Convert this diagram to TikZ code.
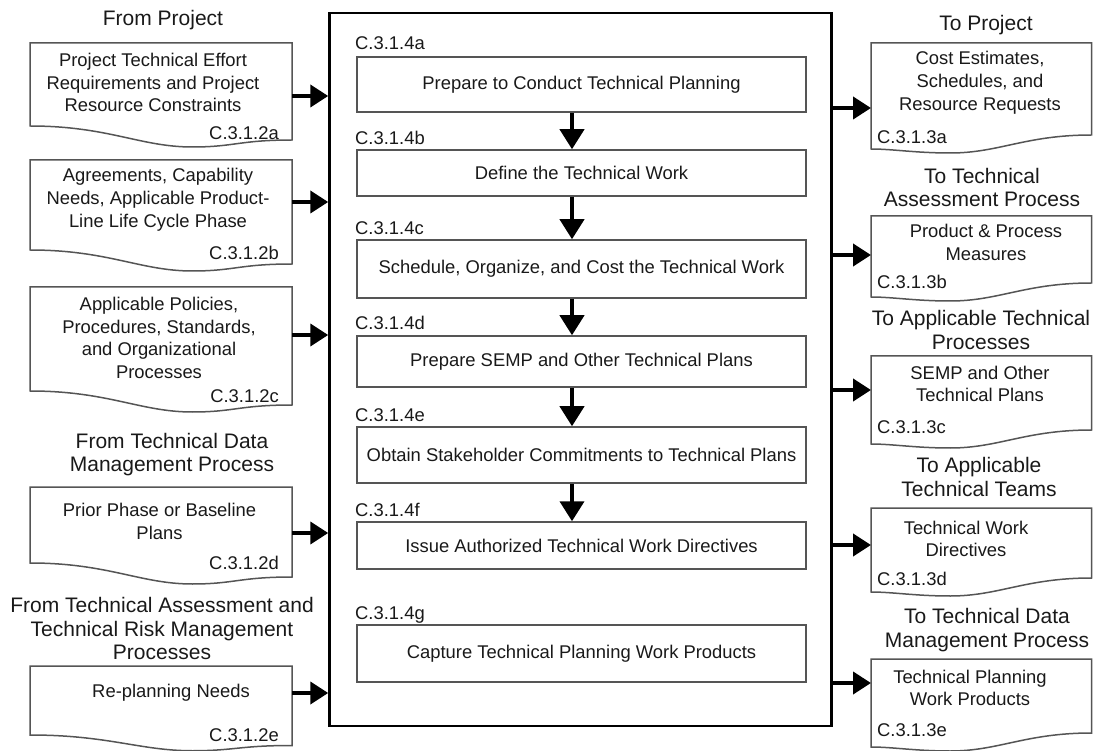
\documentclass[tikz,border=0pt]{standalone}
\usepackage{fontspec}
\setmainfont{Liberation Sans}
\usetikzlibrary{arrows.meta}
\definecolor{edge}{RGB}{85,85,85}
\definecolor{ink}{RGB}{25,25,25}
\tikzset{
  docline/.style={draw=edge, line width=1.5pt, fill=white},
  pbox/.style={draw=edge, line width=1.5pt, minimum width=449pt, inner sep=0pt, text=ink,
    font=\fontsize{18.4}{22}\selectfont},
  codelabel/.style={inner sep=0pt, text=ink, font=\fontsize{18.4}{22}\selectfont, text height=13.2pt, text depth=0pt},
  dtext/.style={inner sep=0pt, align=center, text=ink, font=\fontsize{18.4}{22.8}\selectfont},
  ttext/.style={inner sep=0pt, align=center, text=ink, font=\fontsize{21}{23.5}\selectfont},
  flow/.style={line width=4pt, -{Triangle[length=18pt,width=22pt]}},
  dflow/.style={line width=4pt, -{Triangle[length=20pt,width=24pt]}},
}
% left document shape: L R top ys amp
\newcommand\leftdocshape[5]{%
  \pgfmathsetmacro\docw{#2-#1}%
  \draw[docline] (#1,#3) -- (#2,#3) -- (#2,{#4+14*#5})
    .. controls ({#2-0.2*\docw},{#4+14*#5}) and ({#1+0.78*\docw},{#4+21*#5}) .. ({#1+0.62*\docw},{#4+21*#5})
    .. controls ({#1+0.42*\docw},{#4+21*#5}) and ({#1+0.3*\docw},{#4}) .. (#1,#4) -- cycle;
}
% right document shape: L R top ys amp
\newcommand\rightdocshape[5]{%
  \pgfmathsetmacro\docw{#2-#1}%
  \draw[docline] (#1,#3) -- (#2,#3) -- (#2,#4)
    .. controls ({#2-0.3*\docw},{#4}) and ({#1+0.58*\docw},{#4+18*#5}) .. ({#1+0.36*\docw},{#4+18*#5})
    .. controls ({#1+0.2*\docw},{#4+18*#5}) and ({#1+0.1*\docw},{#4+14*#5}) .. (#1,{#4+14*#5}) -- cycle;
}
\begin{document}
\begin{tikzpicture}[x=1pt,y=-1pt]
\useasboundingbox (0,0) rectangle (1093,751);

% ---------- central process ----------
\node[draw=black, line width=2.5pt, minimum width=502pt, minimum height=713pt, inner sep=0pt] (main) at (580.5,369.5) {};

\node[pbox, minimum height=55pt] (ba) at (581.5,84.5) {Prepare to Conduct Technical Planning};
\node[pbox, minimum height=46pt] (bb) at (581.5,173) {Define the Technical Work};
\node[pbox, minimum height=58pt] (bc) at (581.5,269) {Schedule, Organize, and Cost the Technical Work};
\node[pbox, minimum height=51pt] (bd) at (581.5,361.5) {Prepare SEMP and Other Technical Plans};
\node[pbox, minimum height=56pt] (be) at (581.5,455) {Obtain Stakeholder Commitments to Technical Plans};
\node[pbox, minimum height=47pt] (bf) at (581.5,545.5) {Issue Authorized Technical Work Directives};
\node[pbox, minimum height=57pt] (bg) at (581.5,653.5) {Capture Technical Planning Work Products};

\node[codelabel, anchor=west] (la) at (355,43) {C.3.1.4a};
\node[codelabel, anchor=west] (lb) at (355,138) {C.3.1.4b};
\node[codelabel, anchor=west] (lc) at (355,228) {C.3.1.4c};
\node[codelabel, anchor=west] (ld) at (355,323) {C.3.1.4d};
\node[codelabel, anchor=west] (le) at (355,415) {C.3.1.4e};
\node[codelabel, anchor=west] (lf) at (355,510) {C.3.1.4f};
\node[codelabel, anchor=west] (lg) at (355,613) {C.3.1.4g};

\coordinate (ax) at (572,0);
\draw[dflow] (ba.south -| ax) -- (bb.north -| ax);
\draw[dflow] (bb.south -| ax) -- (bc.north -| ax);
\draw[dflow] (bc.south -| ax) -- (bd.north -| ax);
\draw[dflow] (bd.south -| ax) -- (be.north -| ax);
\draw[dflow] (be.south -| ax) -- (bf.north -| ax);

% ---------- inputs ----------
\node[ttext] (tin1) at (163,20) {From Project};
\node[ttext] (tin2) at (172,454.5) {From Technical Data\\Management Process};
\node[ttext] (tin3) at (162,628.5) {From Technical Assessment and\\Technical Risk Management\\Processes};

\leftdocshape{30}{292}{43}{126}{1}
\leftdocshape{30}{292}{160}{250}{1}
\leftdocshape{30}{292}{287}{391}{1}
\leftdocshape{30}{292}{487}{563}{1}
\leftdocshape{30}{292}{666}{735}{0.75}

\node[dtext] (da) at (153,82.5) {Project Technical Effort\\Requirements and Project\\Resource Constraints};
\node[dtext] (db) at (158,200) {Agreements, Capability\\Needs, Applicable Product-\\Line Life Cycle Phase};
\node[dtext] (dc) at (159,338) {Applicable Policies,\\Procedures, Standards,\\and Organizational\\Processes};
\node[dtext] (dd) at (159.5,521.5) {Prior Phase or Baseline\\Plans};
\node[dtext] (de) at (171,693) {Re-planning Needs};

\node[codelabel, anchor=east] (ca) at (279,133) {C.3.1.2a};
\node[codelabel, anchor=east] (cb) at (279,253) {C.3.1.2b};
\node[codelabel, anchor=east] (cc) at (279,396) {C.3.1.2c};
\node[codelabel, anchor=east] (cd) at (279,563) {C.3.1.2d};
\node[codelabel, anchor=east] (ce) at (279,735) {C.3.1.2e};

\coordinate (ia) at (292,96);
\coordinate (ib) at (292,202);
\coordinate (ic) at (292,335);
\coordinate (id) at (292,533);
\coordinate (ie) at (292,693);
\foreach \p in {ia,ib,ic,id,ie}{\draw[flow] (\p) -- (\p -| main.west);}

% ---------- outputs ----------
\node[ttext] (tout1) at (986,25) {To Project};
\node[ttext] (tout2) at (982,187.5) {To Technical\\Assessment Process};
\node[ttext] (tout3) at (981,330) {To Applicable Technical\\Processes};
\node[ttext] (tout4) at (979,477) {To Applicable\\Technical Teams};
\node[ttext] (tout5) at (987,630) {To Technical Data\\Management Process};

\rightdocshape{871}{1091.5}{43}{135}{1}
\rightdocshape{871}{1091.5}{216}{283}{1}
\rightdocshape{871}{1091.5}{356}{430}{1}
\rightdocshape{871}{1091.5}{508}{578}{1}
\rightdocshape{871}{1091.5}{659}{733}{1}

\node[dtext] (ra) at (980,82.5) {Cost Estimates,\\Schedules, and\\Resource Requests};
\node[dtext] (rb) at (986,242.5) {Product \& Process\\Measures};
\node[dtext] (rc) at (980,384) {SEMP and Other\\Technical Plans};
\node[dtext] (rd) at (966,539) {Technical Work\\Directives};
\node[dtext] (re) at (970,688) {Technical Planning\\Work Products};

\node[codelabel, anchor=west] (qa) at (877,137) {C.3.1.3a};
\node[codelabel, anchor=west] (qb) at (877,282) {C.3.1.3b};
\node[codelabel, anchor=west] (qc) at (877,427) {C.3.1.3c};
\node[codelabel, anchor=west] (qd) at (877,579) {C.3.1.3d};
\node[codelabel, anchor=west] (qe) at (877,730) {C.3.1.3e};

\coordinate (oa) at (871,108);
\coordinate (ob) at (871,255);
\coordinate (oc) at (871,390);
\coordinate (od) at (871,545);
\coordinate (oe) at (871,683);
\foreach \p in {oa,ob,oc,od,oe}{\draw[flow] (\p -| main.east) -- (\p);}
\end{tikzpicture}
\end{document}
